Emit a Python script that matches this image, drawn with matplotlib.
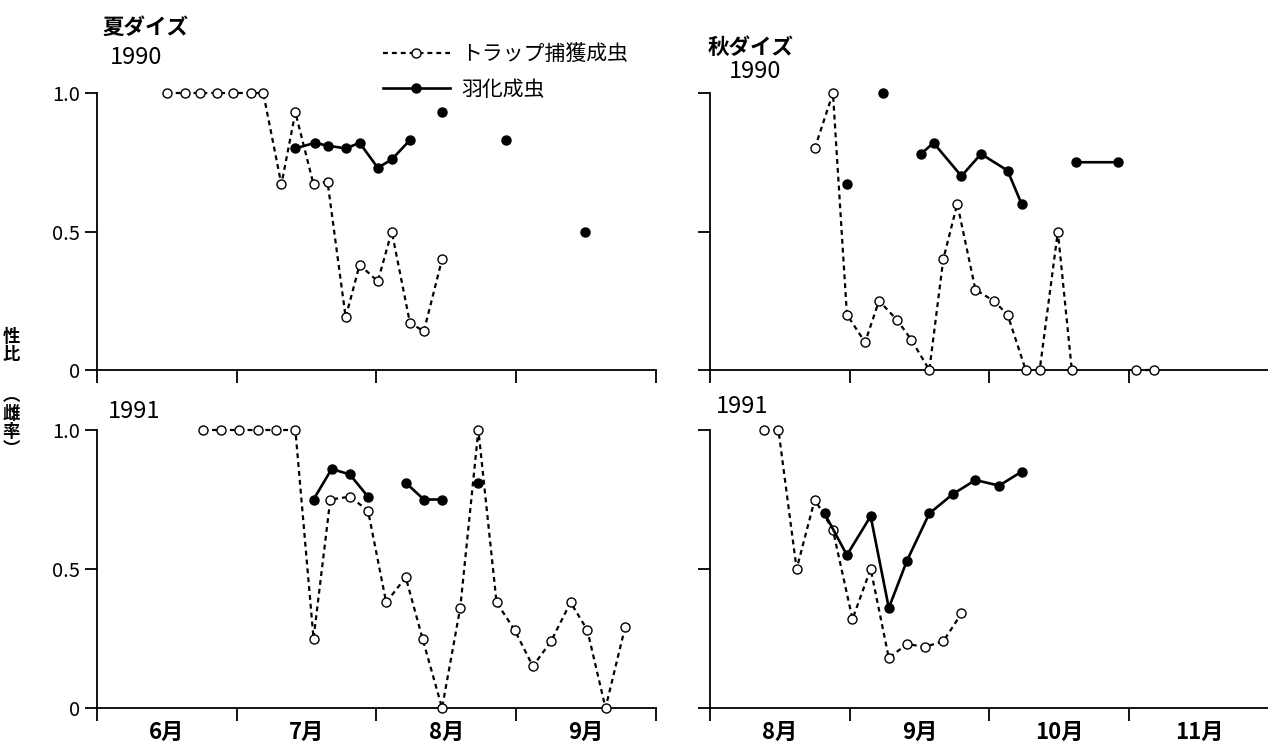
import matplotlib
matplotlib.use("Agg")
import numpy as np
import matplotlib.pyplot as plt
from matplotlib import font_manager
from matplotlib.lines import Line2D

plt.rcParams['font.family'] = ['Noto Sans CJK JP', 'DejaVu Sans']
installed = {f.name for f in font_manager.fontManager.ttflist}
if 'Liberation Sans Narrow' in installed:
    NUM_FONT = ['Liberation Sans Narrow', 'Noto Sans CJK JP']
else:
    NUM_FONT = ['Noto Sans CJK JP', 'DejaVu Sans']

nan = np.nan

# x values: month position (6.0 = 1 June, 7.0 = 1 July ...)
# --- summer soybean 1990 ---
s90_trap_x = [6.50, 6.63, 6.74, 6.86, 6.97, 7.10, 7.19, 7.32, 7.42, 7.55, 7.65,
              7.78, 7.88, 8.01, 8.11, 8.24, 8.34, 8.47]
s90_trap_y = [1.0, 1.0, 1.0, 1.0, 1.0, 1.0, 1.0, 0.67, 0.93, 0.67, 0.68,
              0.19, 0.38, 0.32, 0.50, 0.17, 0.14, 0.40]
s90_emer_x = [7.42, 7.56, 7.65, 7.78, 7.88, 8.01, 8.11, 8.24, nan, 8.47, nan, 8.93, nan, 9.49]
s90_emer_y = [0.80, 0.82, 0.81, 0.80, 0.82, 0.73, 0.76, 0.83, nan, 0.93, nan, 0.83, nan, 0.50]

# --- summer soybean 1991 ---
s91_trap_x = [6.76, 6.89, 7.02, 7.15, 7.28, 7.42, 7.55, 7.67, 7.81, 7.94, 8.07, 8.21,
              8.33, 8.47, 8.60, 8.73, 8.86, 8.99, 9.12, 9.25, 9.39, 9.51, 9.64, 9.78]
s91_trap_y = [1.0, 1.0, 1.0, 1.0, 1.0, 1.0, 0.25, 0.75, 0.76, 0.71, 0.38, 0.47,
              0.25, 0.0, 0.36, 1.0, 0.38, 0.28, 0.15, 0.24, 0.38, 0.28, 0.0, 0.29]
s91_emer_x = [7.55, 7.68, 7.81, 7.94, nan, 8.21, 8.34, 8.47, nan, 8.73]
s91_emer_y = [0.75, 0.86, 0.84, 0.76, nan, 0.81, 0.75, 0.75, nan, 0.81]

# --- autumn soybean 1990 ---
a90_trap_x = [8.75, 8.88, 8.98, 9.11, 9.21, 9.34, 9.44, 9.57, 9.67, 9.77, 9.90,
              10.03, 10.13, 10.26, 10.36, 10.49, 10.59, nan, 11.05, 11.18]
a90_trap_y = [0.80, 1.0, 0.20, 0.10, 0.25, 0.18, 0.11, 0.0, 0.40, 0.60, 0.29,
              0.25, 0.20, 0.0, 0.0, 0.50, 0.0, nan, 0.0, 0.0]
a90_emer_x = [8.98, nan, 9.24, nan, 9.51, 9.60, 9.80, 9.94, 10.13, 10.23, nan, 10.62, 10.92]
a90_emer_y = [0.67, nan, 1.0, nan, 0.78, 0.82, 0.70, 0.78, 0.72, 0.60, nan, 0.75, 0.75]

# --- autumn soybean 1991 ---
a91_trap_x = [8.39, 8.49, 8.62, 8.75, 8.88, 9.02, 9.15, 9.28, 9.41, 9.54, 9.67, 9.80]
a91_trap_y = [1.0, 1.0, 0.50, 0.75, 0.64, 0.32, 0.50, 0.18, 0.23, 0.22, 0.24, 0.34]
a91_emer_x = [8.82, 8.98, 9.15, 9.28, 9.41, 9.57, 9.74, 9.90, 10.07, 10.23]
a91_emer_y = [0.70, 0.55, 0.69, 0.36, 0.53, 0.70, 0.77, 0.82, 0.80, 0.85]

left_months = ['6月', '7月', '8月', '9月']
right_months = ['8月', '9月', '10月', '11月']
y_ticks = [0, 0.5, 1.0]
y_labels = ['0', '0.5', '1.0']

W, H = 1268, 744
fig = plt.figure(figsize=(W / 100, H / 100), dpi=100)


def px(x, y):
    return x / W, 1 - y / H


def make_ax(left, top, bottom, width, start, months, ylabels):
    ax = fig.add_axes([left / W, 1 - bottom / H, width / W, (bottom - top) / H])
    ax.set_xlim(start, start + width / 139.7)
    ax.set_ylim(0, 1.0)
    for s in ['top', 'right']:
        ax.spines[s].set_visible(False)
    for s in ['left', 'bottom']:
        ax.spines[s].set_linewidth(1.3)
    ax.set_xticks(np.arange(start, start + len(months) + 1)[: int(width / 139.7) + 1])
    ax.set_xticklabels([])
    ax.set_xticks([start + i + 0.5 for i in range(len(months))], minor=True)
    ax.tick_params(which='major', direction='out', length=9, width=1.3)
    ax.tick_params(which='minor', length=0)
    ax.set_yticks(y_ticks)
    if ylabels:
        ax.set_yticklabels(y_labels, family=NUM_FONT, fontsize=14.5)
    else:
        ax.set_yticklabels([])
    return ax


def draw(ax, tx, ty, ex, ey):
    ax.plot(tx, ty, color='black', lw=1.6, ls=(0, (2.2, 1.8)), marker='o',
            ms=6.5, mfc='white', mec='black', mew=1.0, clip_on=False, zorder=3)
    ax.plot(ex, ey, color='black', lw=1.9, ls='-', marker='o',
            ms=6.5, mfc='black', mec='black', clip_on=False, zorder=4)


ax_tl = make_ax(97, 93, 370, 559, 6, left_months, True)
ax_bl = make_ax(97, 430, 708, 559, 6, left_months, True)
ax_tr = make_ax(710, 93, 370, 558, 8, right_months, False)
ax_br = make_ax(710, 430, 708, 558, 8, right_months, False)

draw(ax_tl, s90_trap_x, s90_trap_y, s90_emer_x, s90_emer_y)
draw(ax_bl, s91_trap_x, s91_trap_y, s91_emer_x, s91_emer_y)
draw(ax_tr, a90_trap_x, a90_trap_y, a90_emer_x, a90_emer_y)
draw(ax_br, a91_trap_x, a91_trap_y, a91_emer_x, a91_emer_y)

ax_bl.set_xticklabels(left_months, minor=True, fontsize=16, fontweight='bold')
ax_br.set_xticklabels(right_months, minor=True, fontsize=16, fontweight='bold')
ax_bl.tick_params(which='minor', pad=9)
ax_br.tick_params(which='minor', pad=9)

# panel titles
fig.text(*px(102, 27), '夏ダイズ', fontsize=15.5, fontweight='bold', va='center', ha='left')
fig.text(*px(110, 57), '1990', fontsize=17, family=NUM_FONT, va='center', ha='left')
fig.text(*px(708, 47), '秋ダイズ', fontsize=15.5, fontweight='bold', va='center', ha='left')
fig.text(*px(729, 72), '1990', fontsize=17, family=NUM_FONT, va='center', ha='left')
fig.text(*px(108, 412), '1991', fontsize=17, family=NUM_FONT, va='center', ha='left')
fig.text(*px(716, 407), '1991', fontsize=17, family=NUM_FONT, va='center', ha='left')

# y label (vertical Japanese), stacked characters
fig.text(*px(11, 346), '性\n比', fontsize=12.5, fontweight='bold',
         ha='center', va='center', linespacing=0.95)
fig.text(*px(11, 423), '︵\n雌\n率\n︶', fontsize=12.5, fontweight='bold',
         ha='center', va='center', linespacing=0.95)

# legend
handles = [
    Line2D([], [], color='black', lw=1.6, ls=(0, (2.2, 1.8)), marker='o', ms=6.5,
           mfc='white', mec='black', mew=1.0),
    Line2D([], [], color='black', lw=1.9, marker='o', ms=6.5, mfc='black'),
]
fig.legend(handles, ['トラップ捕獲成虫', '羽化成虫'], loc='upper left',
           bbox_to_anchor=px(383, 43), frameon=False, fontsize=15, numpoints=1,
           handlelength=3.2, handletextpad=0.55, labelspacing=0.65,
           borderpad=0, borderaxespad=0)

fig.savefig('out.png', dpi=100)
